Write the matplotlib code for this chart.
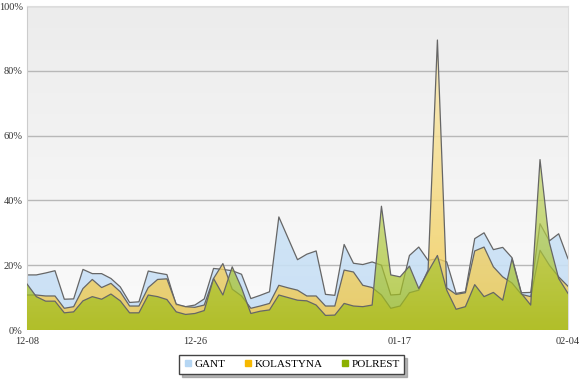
import numpy as np
import pandas as pd
import matplotlib
matplotlib.use("Agg")
import matplotlib.pyplot as plt
from matplotlib.colors import LinearSegmentedColormap
from matplotlib.lines import Line2D

# daily values, percent
dates = pd.date_range("2012-12-08", "2013-02-04", freq="D")
gant = [17.0, 17.0, 17.6, 18.3, 9.5, 9.6, 18.7, 17.4, 17.4, 15.9,
        13.3, 8.5, 8.7, 18.2, 17.6, 17.1, 7.7, 7.2, 7.7, 9.6,
        19.0, 18.7, 18.3, 17.2, 9.7, 10.7, 11.8, 34.9, 28.3, 21.7,
        23.4, 24.4, 11.0, 10.7, 26.4, 20.6, 20.2, 21.0, 20.0, 10.8,
        11.0, 23.0, 25.6, 21.5, 22.0, 21.0, 11.3, 11.8, 28.2, 30.0,
        24.8, 25.5, 22.3, 11.5, 11.6, 32.8, 27.5, 29.7, 22.0]
kolastyna = [10.8, 10.8, 10.5, 10.5, 6.7, 7.2, 12.8, 15.6, 13.1, 14.4,
             11.8, 7.4, 7.4, 13.1, 15.6, 15.8, 8.0, 7.2, 7.0, 7.7,
             15.9, 20.5, 12.6, 10.5, 6.7, 7.4, 8.2, 13.8, 13.0, 12.3,
             10.5, 10.5, 7.4, 7.4, 18.5, 17.9, 13.8, 13.1, 10.8, 6.7,
             7.4, 11.5, 12.3, 18.5, 89.5, 13.0, 11.0, 11.5, 24.4, 25.6,
             19.5, 16.4, 14.5, 11.0, 10.3, 24.6, 20.0, 16.4, 13.5]
polrest = [14.2, 10.3, 8.9, 8.9, 5.3, 5.6, 9.0, 10.3, 9.5, 11.1,
           9.0, 5.3, 5.3, 10.8, 10.3, 9.4, 5.6, 4.8, 5.1, 6.0,
           15.9, 10.8, 19.5, 13.0, 5.1, 5.8, 6.2, 10.8, 10.0, 9.2,
           9.0, 7.7, 4.5, 4.6, 8.2, 7.4, 7.2, 7.7, 38.2, 17.0,
           16.4, 19.7, 12.8, 18.0, 23.0, 12.3, 6.4, 7.2, 14.0, 10.3,
           11.6, 9.2, 22.0, 11.3, 7.7, 52.6, 27.0, 15.9, 11.3]
tick_labels = ["12-08", "12-26", "01-17", "02-04"]
y_ticks = [0, 20, 40, 60, 80, 100]

x = np.arange(len(dates))
labels = list(dates.strftime("%m-%d"))

fig = plt.figure(figsize=(5.82, 3.81), dpi=100)
ax = fig.add_axes([27/582, 51/381, 541/582, 324/381])

# plot background gradient
bg = LinearSegmentedColormap.from_list("bg", ["#fbfbfb", "#ececec"])
ax.imshow(np.linspace(0, 1, 256).reshape(-1, 1), cmap=bg, aspect="auto",
          extent=[0, 1, 0, 1], origin="lower", transform=ax.transAxes, zorder=-2)


def area(y, c_bot, c_top, alpha, z):
    poly = ax.fill_between(x, 0, y, facecolor="none", edgecolor="none")
    cm = LinearSegmentedColormap.from_list("c", [c_bot, c_top])
    im = ax.imshow(np.linspace(0, 1, 256).reshape(-1, 1), cmap=cm, aspect="auto",
                   extent=[x[0], x[-1], 0, 100], origin="lower", alpha=alpha, zorder=z)
    im.set_clip_path(poly.get_paths()[0], transform=ax.transData)
    ax.plot(x, y, color="#666666", lw=0.9, zorder=z + 0.5)


area(gant, "#c4def5", "#dceaf8", 0.9, 2)
area(kolastyna, "#efc746", "#fdf0c4", 0.8, 3)
area(polrest, "#9cba10", "#e8f2c8", 0.72, 4)

ax.set_xlim(x[0], x[-1])
ax.set_ylim(0, 100)
ax.set_xticks([labels.index(t) for t in tick_labels])
ax.set_xticklabels(tick_labels)
ax.set_yticks(y_ticks)
ax.set_yticklabels([f"{v}%" for v in y_ticks])
ax.tick_params(length=0, labelsize=7.5, colors="#333333", labelfontfamily="Liberation Serif")
ax.tick_params(axis="y", pad=3)
ax.tick_params(axis="x", pad=5)
ax.yaxis.grid(True, color="#b8b8b8", lw=1)
ax.set_axisbelow(True)
for s in ["top", "right"]:
    ax.spines[s].set_color("#dddddd")
ax.spines["left"].set_color("#cccccc")
ax.spines["bottom"].set_color("#ffffff")

handles = [Line2D([], [], marker="s", ls="", color=c, markersize=4)
           for c in ["#b5d6f3", "#f6b800", "#8cb000"]]
leg = fig.legend(handles, ["GANT", "KOLASTYNA", "POLREST"], ncol=3,
                 loc="center", bbox_to_anchor=(291.5/582, 1 - 364.5/381),
                 fancybox=False, shadow={"color": "#888888", "alpha": 0.6},
                 edgecolor="#444444",
                 prop={"family": "Liberation Serif", "size": 8},
                 handletextpad=0.2, columnspacing=1.6, borderpad=0.4,
                 handlelength=0.8)
leg.get_frame().set_linewidth(1.0)

fig.savefig("out.png", dpi=100)
